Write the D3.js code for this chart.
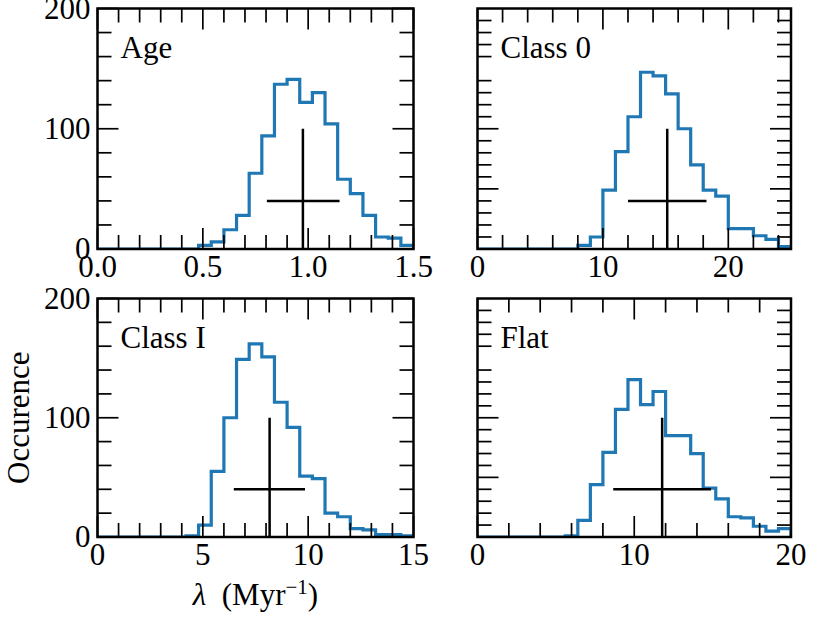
<!DOCTYPE html>
<html>
<head>
<meta charset="utf-8">
<script src="https://cdn.jsdelivr.net/npm/d3@7"></script>
<style>
  html, body { margin: 0; padding: 0; background: #fff; }
  svg { display: block; }
  text { font-family: "Liberation Serif", "Times New Roman", serif; fill: #000; }
</style>
</head>
<body>
<svg id="chart" width="830" height="623"></svg>
<script>
// ---------------- data ----------------
const panelNames = ["Age", "Class 0", "Class I", "Flat"];
const xMaxes = [1.5, 25, 15, 20];
const nBins = 25;

// counts per bin (25 equal bins from 0 to xMax)
const ageCounts    = [0,0,0,0,0,0,0,0, 3, 6, 16, 28, 63, 94, 137, 141, 122, 130, 104, 58, 46, 28, 10, 9, 3];
const class0Counts = [0,0,0,0,0,0,0,0, 3, 10, 49, 81, 110, 147, 144, 129, 100, 70, 49, 44, 17, 17, 11, 8, 2];
const classICounts = [0,0,0,0,0,0,0, 1, 10, 55, 100, 149, 162, 151, 113, 92, 51, 49, 20, 17, 7, 6, 2, 2, 1];
const flatCounts   = [0,0,0,0,0,0,0, 1, 14, 44, 71, 107, 132, 111, 122, 85, 85, 70, 41, 32, 17, 16, 9, 5, 7];
const allCounts = [ageCounts, class0Counts, classICounts, flatCounts];

// error crosses: central value, lower and upper horizontal extent
const crossCenter = [0.975, 15.13, 8.17, 11.78];
const crossLow    = [0.804, 12.0, 6.47, 8.66];
const crossHigh   = [1.149, 18.26, 9.85, 14.9];
const crossLevel = 40;     // y of horizontal bar
const crossTop = 100;      // top of vertical bar

// ticks
const xMajorTicks = [[0, 0.5, 1.0, 1.5], [0, 10, 20], [0, 5, 10, 15], [0, 10, 20]];
const xMinorStep  = [0.1, 2, 1, 2];
const xTickFormat = [".1f", "d", "d", "d"];
const yMajorLabeled = [0, 100, 200];
const yMinorLeft  = [20, 40, 60, 80, 120, 140, 160, 180];
const yMajorRight = [50, 100];
const yMinorRight = [10, 20, 30, 40, 60, 70, 80, 90, 110, 120, 130, 140, 160, 170, 180, 190];
const yMax = 200;

// ---------------- layout ----------------
const panelBoxes = [
  {x0: 97.5, x1: 413.5, y0: 8.5,   y1: 249},
  {x0: 477.5, x1: 791,  y0: 8.5,   y1: 249},
  {x0: 97.5, x1: 413.5, y0: 298.5, y1: 537},
  {x0: 477.5, x1: 791,  y0: 298.5, y1: 537}
];
const blue = "#1f77b4";
const majorLen = 21, minorLen = 14;
const fontSize = 31;

const svg = d3.select("#chart");
const defs = svg.append("defs");

panelNames.forEach((name, p) => {
  const b = panelBoxes[p];
  const xMax = xMaxes[p];
  const counts = allCounts[p];
  const x = d3.scaleLinear().domain([0, xMax]).range([b.x0, b.x1]);
  const y = d3.scaleLinear().domain([0, yMax]).range([b.y1, b.y0]);
  const g = svg.append("g");

  defs.append("clipPath").attr("id", "clip" + p)
    .append("rect").attr("x", b.x0).attr("y", b.y0)
    .attr("width", b.x1 - b.x0).attr("height", b.y1 - b.y0);

  // histogram step outline
  const binW = xMax / nBins;
  const pts = [[0, 0]];
  counts.forEach((c, i) => pts.push([i * binW, c]));
  pts.push([xMax, counts[counts.length - 1]]);
  pts.push([xMax, 0]);
  const line = d3.line().x(d => x(d[0])).y(d => y(d[1])).curve(d3.curveStepAfter);
  g.append("path")
    .attr("d", line(pts))
    .attr("fill", "none")
    .attr("stroke", blue)
    .attr("stroke-width", 3.2)
    .attr("stroke-linejoin", "miter")
    .attr("clip-path", `url(#clip${p})`);

  // error cross
  const cg = g.append("g").attr("stroke", "#000").attr("stroke-width", 2.5).attr("clip-path", `url(#clip${p})`);
  cg.append("line")
    .attr("x1", x(crossCenter[p])).attr("x2", x(crossCenter[p]))
    .attr("y1", y(0)).attr("y2", y(crossTop));
  cg.append("line")
    .attr("x1", x(crossLow[p])).attr("x2", x(crossHigh[p]))
    .attr("y1", y(crossLevel)).attr("y2", y(crossLevel));

  // ticks
  const tg = g.append("g").attr("stroke", "#000").attr("stroke-width", 1.7);
  const minorX = d3.range(0, Math.floor(xMax / xMinorStep[p] + 1e-6) + 1)
    .map(i => +(i * xMinorStep[p]).toFixed(4))
    .filter(v => v <= xMax + 1e-9)
    .filter(v => !xMajorTicks[p].some(m => Math.abs(m - v) < 1e-6));
  const addXTicks = (vals, len) => vals.forEach(v => {
    tg.append("line").attr("x1", x(v)).attr("x2", x(v)).attr("y1", b.y1).attr("y2", b.y1 - len);
    tg.append("line").attr("x1", x(v)).attr("x2", x(v)).attr("y1", b.y0).attr("y2", b.y0 + len);
  });
  addXTicks(xMajorTicks[p], majorLen);
  addXTicks(minorX, minorLen);
  const addYTicks = (vals, len) => vals.forEach(v => {
    tg.append("line").attr("x1", b.x0).attr("x2", b.x0 + len).attr("y1", y(v)).attr("y2", y(v));
    tg.append("line").attr("x1", b.x1).attr("x2", b.x1 - len).attr("y1", y(v)).attr("y2", y(v));
  });
  if (p % 2 === 0) {
    addYTicks(yMajorLabeled, majorLen);
    addYTicks(yMinorLeft, minorLen);
  } else {
    addYTicks(yMajorRight, majorLen);
    addYTicks(yMinorRight, minorLen);
  }

  // frame
  g.append("rect")
    .attr("x", b.x0).attr("y", b.y0)
    .attr("width", b.x1 - b.x0).attr("height", b.y1 - b.y0)
    .attr("fill", "none").attr("stroke", "#000").attr("stroke-width", 2.5);

  // x tick labels
  const fmt = d3.format(xTickFormat[p]);
  xMajorTicks[p].forEach(v => {
    g.append("text")
      .attr("x", x(v)).attr("y", b.y1 + 28)
      .attr("text-anchor", "middle")
      .attr("font-size", fontSize)
      .text(fmt(v));
  });

  // y tick labels (left column only)
  if (p % 2 === 0) {
    yMajorLabeled.forEach(v => {
      g.append("text")
        .attr("x", b.x0 - 7).attr("y", y(v) + 10)
        .attr("text-anchor", "end")
        .attr("font-size", fontSize)
        .text(v);
    });
  }

  // panel label
  g.append("text")
    .attr("x", b.x0 + 23).attr("y", b.y0 + 49)
    .attr("font-size", fontSize)
    .text(name);
});

// axis titles
const bl = panelBoxes[2];
const xl = svg.append("text")
  .attr("x", (bl.x0 + bl.x1) / 2).attr("y", 605)
  .attr("text-anchor", "middle")
  .attr("font-size", fontSize);
xl.append("tspan").attr("font-style", "italic").text("λ");
xl.append("tspan").text("\u2002(Myr");
xl.append("tspan").attr("font-size", 21).attr("dy", -11).text("−1");
xl.append("tspan").attr("dy", 11).text(")");

svg.append("text")
  .attr("transform", `translate(29, ${(bl.y0 + bl.y1) / 2}) rotate(-90)`)
  .attr("text-anchor", "middle")
  .attr("font-size", fontSize)
  .text("Occurence");
</script>
</body>
</html>
